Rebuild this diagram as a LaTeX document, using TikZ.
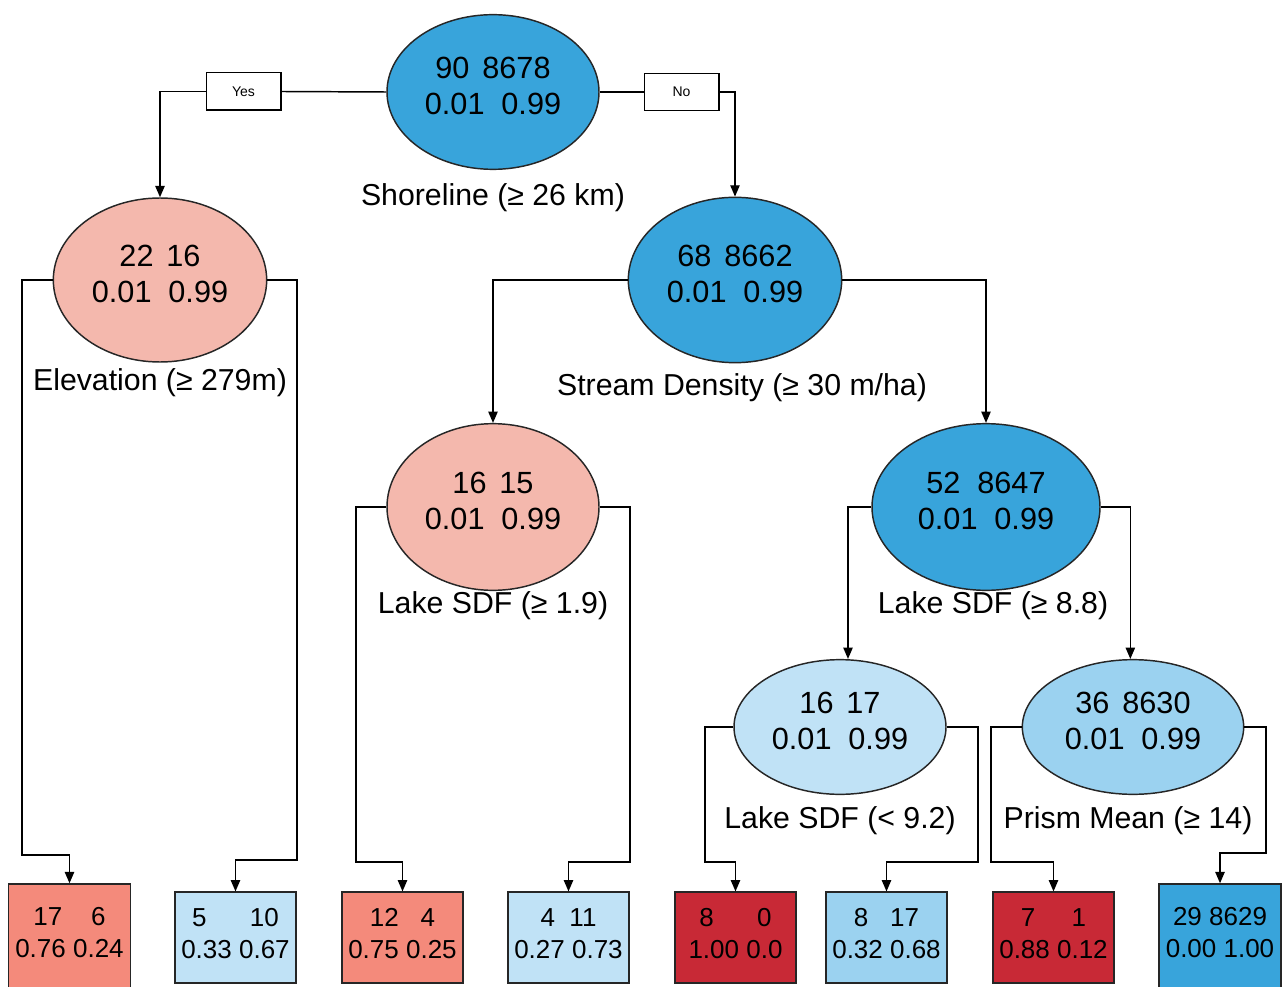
\documentclass[tikz,border=0pt]{standalone}
\usepackage{fontspec}
\setmainfont{Liberation Sans}
\usetikzlibrary{shapes.geometric,arrows.meta}
\definecolor{cblue}{HTML}{38A4DB}
\definecolor{clsalmon}{HTML}{F4B8AD}
\definecolor{csalmon}{HTML}{F48A7B}
\definecolor{cdred}{HTML}{C82936}
\definecolor{clblue}{HTML}{C0E2F6}
\definecolor{cmblue}{HTML}{9BD2F0}
\newcommand{\ga}{\hspace{0.42em}}
\newcommand{\gb}{\hspace{0.55em}}
\tikzset{
  line/.style={line width=1.1pt, draw=black},
  arr/.style={line, -{Triangle[length=8.5pt,width=7pt]}},
  ell/.style={ellipse, draw=black!85, line width=1.1pt, inner sep=0pt, align=center,
    text depth=8.6pt, font=\fontsize{23pt}{27pt}\selectfont},
  leaf/.style={rectangle, draw=black!85, line width=1.1pt, inner sep=0pt, align=center,
    text depth=6pt, font=\fontsize{19.5pt}{24pt}\selectfont},
  lab/.style={font=\fontsize{22.7pt}{26pt}\selectfont, inner sep=0pt},
  yn/.style={rectangle, draw=black, line width=1pt, fill=white, minimum width=56pt, minimum height=28pt, inner sep=0pt, font=\fontsize{10.5pt}{12pt}\selectfont}
}
\begin{document}
\begin{tikzpicture}[x=0.75pt,y=-0.75pt]
\useasboundingbox (0,0) rectangle (1288,987);
% ellipses
\node[ell, fill=cblue, minimum width=159pt, minimum height=116pt] (root) at (493,92) {90\ga 8678\\0.01\gb 0.99};
\node[ell, fill=clsalmon, minimum width=160pt, minimum height=123pt] (elev) at (160,280) {22\ga 16\\0.01\gb 0.99};
\node[ell, fill=cblue, minimum width=160pt, minimum height=124pt] (stream) at (735,280) {68\ga 8662\\0.01\gb 0.99};
\node[ell, fill=clsalmon, minimum width=159pt, minimum height=125pt] (lsdf1) at (493,507) {16\ga 15\\0.01\gb 0.99};
\node[ell, fill=cblue, minimum width=171pt, minimum height=125pt] (lsdf2) at (986,507) {52\gb 8647\\0.01\gb 0.99};
\node[ell, fill=clblue, minimum width=159pt, minimum height=101pt] (lsdf3) at (840,727) {16\ga 17\\0.01\gb 0.99};
\node[ell, fill=cmblue, minimum width=166pt, minimum height=101pt] (prism) at (1133,727) {36\ga 8630\\0.01\gb 0.99};
% labels
\node[lab] (lroot) at (493,198) {Shoreline (≥ 26 km)};
\node[lab] (lelev) at (160,383) {Elevation (≥ 279m)};
\node[lab] (lstream) at (742,388) {Stream Density (≥ 30 m/ha)};
\node[lab] (llsdf1) at (493,606) {Lake SDF (≥ 1.9)};
\node[lab] (llsdf2) at (993,606) {Lake SDF (≥ 8.8)};
\node[lab] (llsdf3) at (840,821) {Lake SDF (< 9.2)};
\node[lab] (lprism) at (1128,821) {Prism Mean (≥ 14)};
% yes/no
\node[yn] (yes) at (243.5,91.5) {Yes};
\node[yn] (no) at (681.5,92) {No};
% leaves
\node[leaf, fill=csalmon, minimum width=91.5pt, minimum height=78pt] (L1) at (69.5,936) {17\ \ \ \ 6\\0.76 0.24};
\node[leaf, fill=clblue, minimum width=91pt, minimum height=68pt] (L2) at (235.5,937.5) {5\ \ \ \ \ \ 10\\0.33 0.67};
\node[leaf, fill=csalmon, minimum width=91pt, minimum height=68pt] (L3) at (402.5,937.5) {12\ \ \ 4\\0.75 0.25};
\node[leaf, fill=clblue, minimum width=91pt, minimum height=68pt] (L4) at (568.5,937.5) {4\ \ 11\\0.27 0.73};
\node[leaf, fill=cdred, minimum width=91pt, minimum height=68pt] (L5) at (735.5,937.5) {8\ \ \ \ \ \ 0\\1.00 0.0};
\node[leaf, fill=cmblue, minimum width=91pt, minimum height=68pt] (L6) at (886.5,937.5) {8\ \ \ 17\\0.32 0.68};
\node[leaf, fill=cdred, minimum width=91pt, minimum height=68pt] (L7) at (1053.5,937.5) {7\ \ \ \ \ 1\\0.88 0.12};
\node[leaf, fill=cblue, minimum width=91.5pt, minimum height=78pt] (L8) at (1220,936) {29 8629\\0.00 1.00};
% connectors
\draw[line] (root.west) -- (yes.east);
\draw[arr] (yes.west) -| (elev.north);
\draw[line] (root.east) -- (no.west);
\draw[arr] (no.east) -| (stream.north);
\draw[arr] (elev.west) -- (22,280) -- (22,855) -| (L1.north);
\draw[arr] (elev.east) -- (297,280) -- (297,860) -| (L2.north);
\draw[arr] (stream.west) -| (lsdf1.north);
\draw[arr] (stream.east) -| (lsdf2.north);
\draw[arr] (lsdf1.west) -- (356,507) -- (356,862) -| (L3.north);
\draw[arr] (lsdf1.east) -- (630,507) -- (630,862) -| (L4.north);
\draw[arr] (lsdf2.west) -| ([xshift=6pt]lsdf3.north);
\draw[arr] (lsdf2.east) -| ([xshift=-2pt]prism.north);
\draw[arr] (lsdf3.west) -- (705,727) -- (705,862) -| (L5.north);
\draw[arr] (lsdf3.east) -- (978,727) -- (978,862) -| (L6.north);
\draw[arr] (prism.west) -- (991,727) -- (991,862) -| (L7.north);
\draw[arr] (prism.east) -- (1266,727) -- (1266,853) -| (L8.north);
\end{tikzpicture}
\end{document}
